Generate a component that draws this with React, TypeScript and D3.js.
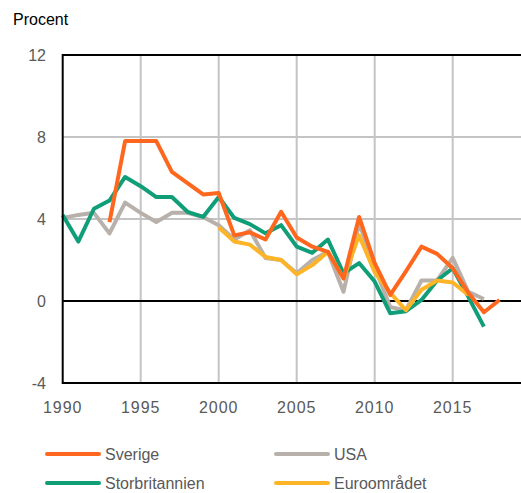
import React from "react";
import * as d3 from "d3";

const years = d3.range(1990, 2019);
// values by year 1990..2018 (null = no data)
const sverige: (number | null)[] = [null, null, null, 3.85, 7.8, 7.8, 7.8, 6.3, 5.75, 5.2, 5.27, 3.2, 3.35, 3.0, 4.35, 3.1, 2.65, 2.4, 1.1, 4.1, 1.85, 0.3, 1.45, 2.65, 2.3, 1.6, 0.4, -0.55, 0.05];
const usa: (number | null)[] = [4.05, 4.2, 4.3, 3.3, 4.8, 4.3, 3.85, 4.3, 4.3, 4.1, 3.7, 3.0, 3.45, 2.1, 2.0, 1.35, 2.0, 2.4, 0.45, 3.8, 1.65, -0.3, -0.45, 1.0, 1.0, 2.1, 0.45, 0.1, null];
const storbritannien: (number | null)[] = [4.2, 2.9, 4.5, 4.9, 6.05, 5.6, 5.07, 5.07, 4.35, 4.1, 5.07, 4.05, 3.75, 3.3, 3.7, 2.65, 2.35, 3.0, 1.35, 1.85, 0.95, -0.6, -0.5, 0.05, 1.0, 1.6, 0.2, -1.25, null];
const euro: (number | null)[] = [null, null, null, null, null, null, null, null, null, null, 3.6, 2.9, 2.75, 2.15, 2.0, 1.3, 1.75, 2.4, 1.1, 3.2, 1.4, 0.4, -0.45, 0.55, 1.0, 0.9, 0.3, null, null];

const yTicks = [-4, 0, 4, 8, 12];
const xTicks = [1990, 1995, 2000, 2005, 2010, 2015];

const seriesNames = ["Sverige", "USA", "Storbritannien", "Euroområdet"];
const seriesColors = ["#FF671F", "#B8B0AA", "#109E78", "#FDB427"];
const seriesData = [sverige, usa, storbritannien, euro];
const drawOrder = [1, 2, 3, 0];

export default function App() {
  const W = 521, H = 493;
  const left = 62.7, top = 55, bottom = 383;
  const x = d3.scaleLinear().domain([1990, 2020]).range([left, left + 30 * 15.6]);
  const y = d3.scaleLinear().domain([-4, 12]).range([bottom, top]);
  const right = x(2020);
  const line = d3
    .line<[number, number | null]>()
    .defined((d) => d[1] !== null)
    .x((d) => x(d[0]))
    .y((d) => y(d[1] as number));
  const font = "'Liberation Sans', Arial, sans-serif";
  const grey = "#595959";
  const legendPos = [
    [47, 455],
    [276, 455],
    [47, 484],
    [276, 484],
  ];
  return (
    <div style={{ position: "absolute", left: 0, top: 0 }}>
      <svg width={W} height={H} style={{ display: "block" }} fontFamily={font}>
        <rect width={W} height={H} fill="#fff" />
        <text x={13} y={25} fontSize={16} fill="#000">Procent</text>
        {/* gridlines */}
        {yTicks.filter((t) => t !== -4 && t !== 0 && t !== 12).map((t) => (
          <line key={"gy" + t} x1={left} x2={right} y1={y(t)} y2={y(t)} stroke="#C4C4C4" strokeWidth={2} />
        ))}
        {xTicks.filter((t) => t !== 1990).map((t) => (
          <line key={"gx" + t} x1={x(t)} x2={x(t)} y1={top} y2={bottom} stroke="#C4C4C4" strokeWidth={2} />
        ))}
        {/* zero line */}
        <line x1={left} x2={right} y1={y(0)} y2={y(0)} stroke="#000" strokeWidth={2} />
        {/* series */}
        {drawOrder.map((i) => (
          <path
            key={seriesNames[i]}
            d={line(years.map((yr, k) => [yr, seriesData[i][k]] as [number, number | null])) || ""}
            fill="none"
            stroke={seriesColors[i]}
            strokeWidth={4}
            strokeLinejoin="round"
          />
        ))}
        {/* frame */}
        <line x1={left} x2={right} y1={top} y2={top} stroke="#000" strokeWidth={2} />
        <line x1={left} x2={right} y1={bottom} y2={bottom} stroke="#000" strokeWidth={2} />
        <line x1={left} x2={left} y1={top - 1} y2={bottom + 1} stroke="#000" strokeWidth={2} />
        {/* y tick labels */}
        {yTicks.map((t) => (
          <text key={"ty" + t} x={46} y={y(t) + 6} fontSize={16} fill={grey} textAnchor="end">
            {t}
          </text>
        ))}
        {/* x tick labels */}
        {xTicks.map((t) => (
          <text key={"tx" + t} x={x(t)} y={413} fontSize={16} fill={grey} textAnchor="middle" letterSpacing={1}>
            {t}
          </text>
        ))}
        {/* legend */}
        {seriesNames.map((n, i) => (
          <g key={"lg" + n}>
            <line
              x1={legendPos[i][0]}
              x2={legendPos[i][0] + 52}
              y1={legendPos[i][1] - 1}
              y2={legendPos[i][1] - 1}
              stroke={seriesColors[i]}
              strokeWidth={4}
              strokeLinecap="round"
            />
            <text x={legendPos[i][0] + 58} y={legendPos[i][1] + 5} fontSize={16} fill={grey}>
              {n}
            </text>
          </g>
        ))}
      </svg>
    </div>
  );
}
